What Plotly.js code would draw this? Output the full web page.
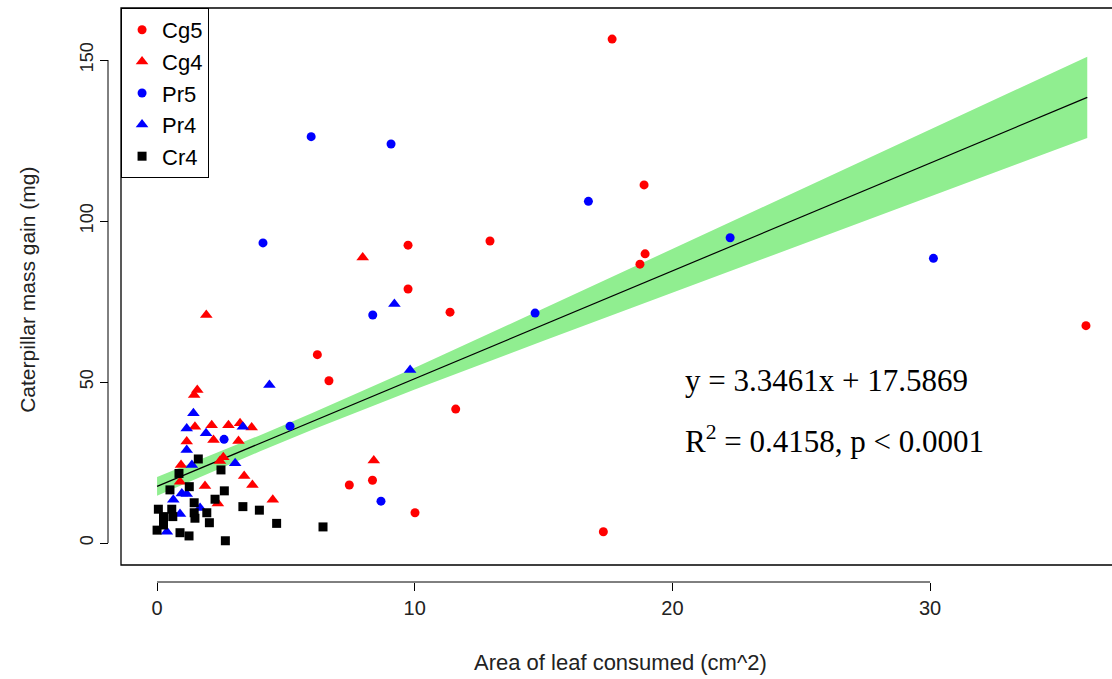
<!DOCTYPE html>
<html>
<head>
<meta charset="utf-8">
<script src="https://cdn.plot.ly/plotly-3.0.1.min.js"></script>
<style>html,body{margin:0;padding:0;background:#fff;}#chart{width:1112px;height:679px;}</style>
</head>
<body>
<div id="chart"></div>
<script>
// Cg5 (red circles)
var cg5X = [17.66, 18.9, 18.94, 18.74, 12.92, 9.74, 9.74, 11.37, 6.22, 6.67, 11.59, 7.46, 8.36, 10.01, 17.32, 36.05];
var cg5Y = [156.5, 111.2, 89.8, 86.6, 93.8, 92.5, 78.9, 71.7, 58.5, 50.4, 41.6, 18.0, 19.5, 9.4, 3.5, 67.5];
// Cg4 (red triangles)
var cg4X = [1.91, 7.98, 8.41, 1.56, 1.44, 1.47, 2.12, 2.77, 3.22, 3.67, 2.19, 3.16, 1.15, 2.57, 2.44, 0.93, 3.38, 3.70, 1.86, 0.89, 4.49, 2.36];
var cg4Y = [70.8, 88.7, 25.6, 47.5, 46.0, 36.1, 36.6, 36.6, 37.2, 35.9, 32.0, 31.7, 31.5, 26.6, 25.5, 24.2, 20.8, 18.0, 17.7, 19.0, 13.4, 12.3];
// Pr5 (blue circles)
var pr5X = [5.98, 9.08, 8.37, 5.16, 4.11, 16.74, 22.24, 30.13, 8.69, 14.67, 2.60];
var pr5Y = [126.2, 123.9, 70.8, 36.3, 93.2, 106.1, 94.8, 88.4, 13.0, 71.4, 32.2];
// Pr4 (blue triangles)
var pr4X = [4.36, 1.41, 1.15, 1.90, 3.33, 1.15, 3.03, 1.35, 0.96, 0.63, 0.89, 0.38, 1.15, 1.67, 9.21, 9.82];
var pr4Y = [49.1, 40.3, 35.6, 34.1, 36.1, 28.9, 24.8, 24.2, 15.4, 13.4, 9.0, 3.5, 15.2, 10.9, 74.2, 53.7];
// Cr4 (black squares)
var cr4X = [1.60, 0.85, 2.48, 0.50, 1.25, 2.61, 2.25, 0.05, 0.57, 1.44, 1.44, 1.93, 3.33, 3.97, 0.25, 0.61, 2.03, 4.64, 1.47, 0.0, 0.89, 1.24, 2.65, 0.25, 6.44];
var cr4Y = [26.1, 21.6, 22.7, 16.5, 17.5, 16.2, 13.6, 10.5, 10.5, 12.5, 9.4, 9.4, 11.3, 10.2, 8.2, 8.2, 6.3, 6.1, 7.7, 4.0, 3.2, 2.2, 0.7, 5.6, 5.0];
// regression line and confidence band
var fitX = [0, 36.1];
var fitY = [17.59, 138.38];
var bandX = [0, 2, 4, 6, 10, 15, 20, 25, 30, 36.1];
var bandLow = [14.7, 21.7, 28.5, 35.1, 47.7, 62.8, 77.7, 92.5, 107.5, 125.8];
var bandHigh = [20.5, 26.9, 33.5, 40.3, 54.4, 72.8, 91.3, 110.0, 128.5, 151.0];
var xTicks = [0, 10, 20, 30];
var yTicks = [0, 50, 100, 150];

var traces = [
  {x: bandX, y: bandLow, mode: 'lines', line: {width: 0, color: '#90EE90'}, showlegend: false, hoverinfo: 'skip'},
  {x: bandX, y: bandHigh, mode: 'lines', line: {width: 0, color: '#90EE90'}, fill: 'tonexty', fillcolor: '#90EE90', showlegend: false, hoverinfo: 'skip'},
  {x: fitX, y: fitY, mode: 'lines', line: {width: 1.2, color: '#000'}, showlegend: false},
  {x: cg5X, y: cg5Y, mode: 'markers', name: 'Cg5', marker: {symbol: 'circle', size: 9, color: '#ff0000'}},
  {x: cg4X, y: cg4Y, mode: 'markers', name: 'Cg4', marker: {symbol: 'triangle-up', size: 11, color: '#ff0000'}},
  {x: pr5X, y: pr5Y, mode: 'markers', name: 'Pr5', marker: {symbol: 'circle', size: 9, color: '#0000ff'}},
  {x: pr4X, y: pr4Y, mode: 'markers', name: 'Pr4', marker: {symbol: 'triangle-up', size: 11, color: '#0000ff'}},
  {x: cr4X, y: cr4Y, mode: 'markers', name: 'Cr4', marker: {symbol: 'square', size: 9, color: '#000000'}}
];

var F = 'Liberation Sans, Arial, sans-serif';
var layout = {
  width: 1112, height: 679,
  margin: {l: 108, r: 0, t: 8, b: 97},
  paper_bgcolor: '#fff', plot_bgcolor: '#fff',
  showlegend: true,
  legend: {x: 0.013, y: 1, xanchor: 'left', yanchor: 'top', bgcolor: '#fff', bordercolor: '#000', borderwidth: 1,
           font: {family: F, size: 22, color: '#000'}, tracegroupgap: 0, itemsizing: 'trace', traceorder: 'normal'},
  xaxis: {domain: [0.01295, 1], range: [-1.40, 37.06], anchor: 'free', position: 0,
          tickvals: xTicks, ticktext: xTicks.map(String), ticks: 'outside', ticklen: 8, tickcolor: '#000',
          showgrid: false, zeroline: false, showline: false,
          tickfont: {family: F, size: 20, color: '#222'}},
  yaxis: {domain: [0.0296, 1], range: [-6.83, 166.15], anchor: 'free', position: 0,
          tickvals: yTicks, ticktext: yTicks.map(String), ticks: 'outside', ticklen: 8, tickcolor: '#000', tickangle: -90,
          showgrid: false, zeroline: false, showline: false,
          tickfont: {family: F, size: 18, color: '#222'}},
  shapes: [
    {type: 'rect', xref: 'paper', yref: 'paper', x0: 0.01295, x1: 1.01, y0: 0.0296, y1: 1, line: {color: '#000', width: 1.3}},
    {type: 'line', xref: 'x', yref: 'paper', x0: 0, x1: 30, y0: 0, y1: 0, line: {color: '#000', width: 1}},
    {type: 'line', xref: 'paper', yref: 'y', x0: 0, x1: 0, y0: 0, y1: 150, line: {color: '#000', width: 1}}
  ],
  annotations: [
    {xref: 'paper', yref: 'paper', x: 0.51, y: -0.141, xanchor: 'center', yanchor: 'middle', text: 'Area of leaf consumed (cm^2)', showarrow: false,
     font: {family: F, size: 22, color: '#222'}},
    {xref: 'paper', yref: 'paper', x: -0.0797, y: 0.509, xanchor: 'center', yanchor: 'middle', text: 'Caterpillar mass gain (mg)', showarrow: false, textangle: -90,
     font: {family: F, size: 21, color: '#222'}},
    {xref: 'x', yref: 'y', x: 20.41, y: 50.6, xanchor: 'left', yanchor: 'middle', text: 'y = 3.3461x + 17.5869', showarrow: false,
     font: {family: 'Liberation Serif, Times New Roman, serif', size: 31, color: '#000'}},
    {xref: 'x', yref: 'y', x: 20.41, y: 32.0, xanchor: 'left', yanchor: 'middle', text: 'R<sup>2</sup> = 0.4158, p &lt; 0.0001', showarrow: false,
     font: {family: 'Liberation Serif, Times New Roman, serif', size: 31, color: '#000'}}
  ]
};
Plotly.newPlot('chart', traces, layout, {displayModeBar: false, staticPlot: true});
</script>
</body>
</html>
